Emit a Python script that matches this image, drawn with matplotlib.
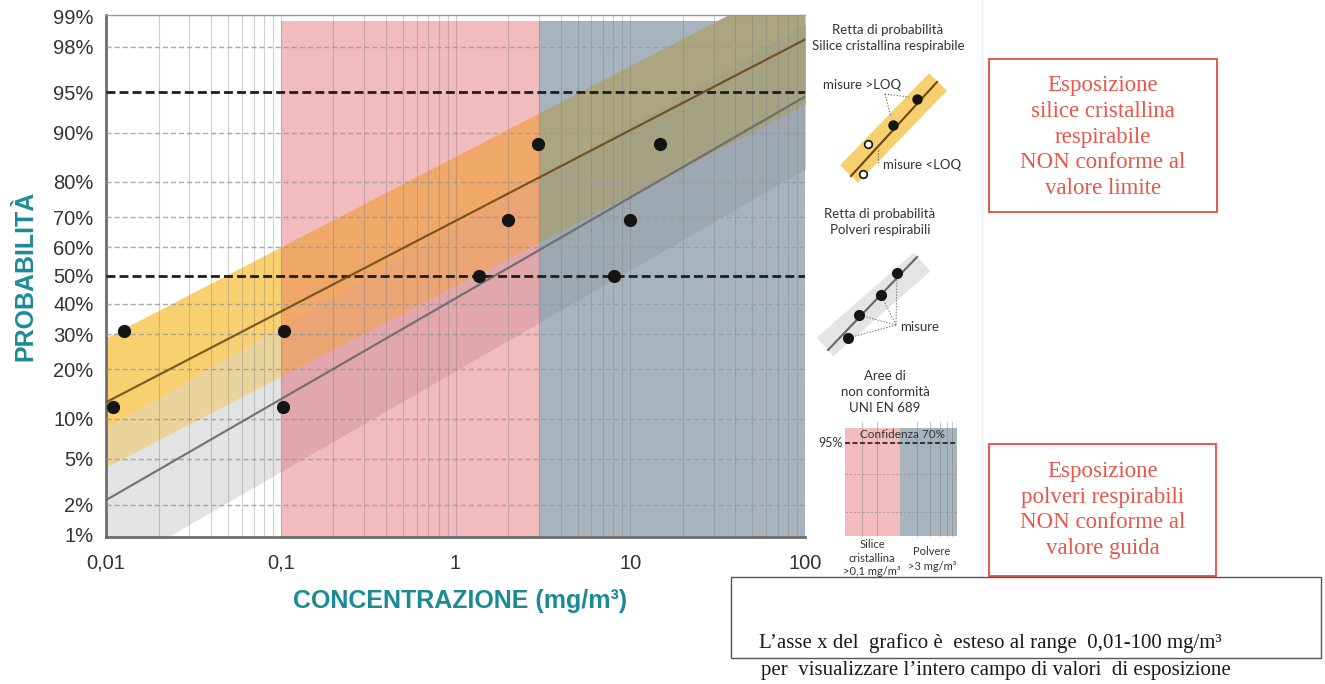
from statistics import NormalDist

import matplotlib
matplotlib.use("Agg")
import matplotlib.pyplot as plt
import numpy as np

plt.rcParams["font.family"] = ["Liberation Sans", "DejaVu Sans"]

# probability grid (percent)
PROB_TICKS = [1, 2, 5, 10, 20, 30, 40, 50, 60, 70, 80, 90, 95, 98, 99]
PROB_GRID = [2, 5, 10, 20, 30, 40, 60, 70, 80, 90, 98]
PROB_BOLD = [50, 95]
CONC_TICKS = [0.01, 0.1, 1, 10, 100]
CONC_LABELS = ["0,01", "0,1", "1", "10", "100"]

# measurements (mg/m3) and plotting positions (%)
SILICA_CONC = [0.0109, 0.0126, 1.37, 1.99, 2.98]
DUST_CONC = [0.103, 0.104, 8.1, 9.97, 14.8]
POSITIONS = [11.9, 30.9, 50.0, 69.0, 88.1]

# fitted probability lines, value at x = 0.01 and x = 100
LINE_X = [0.01, 100]
SILICA_LINE_P = [12.8, 98.3]
DUST_LINE_P = [2.2, 94.6]
SILICA_HALF_Z = 0.58
DUST_HALF_Z = 0.65

# non-conformity areas
REGION_EDGES = [0.01, 0.1, 3, 100]
REGION_TOP_P = 98.9
REGION_BG = [None, "#F2BBBD", "#A8B4BD"]
DUST_ONLY = ["#E3E3E3", "#E2A7AC", "#9EA8B0"]
SILICA_ONLY = ["#F8D070", "#F0A868", "#ABA67F"]
OVERLAP = ["#EAD49C", "#EBA474", "#A4A283"]

TEAL = "#1C8A96"
RED = "#E8574A"

_nd = NormalDist()


def probit(p):
    return np.array([_nd.inv_cdf(v / 100.0) for v in np.atleast_1d(p)])


def line_z(x, p_ends):
    zz = probit(p_ends)
    t = (np.log10(x) - np.log10(LINE_X[0])) / (np.log10(LINE_X[1]) - np.log10(LINE_X[0]))
    return zz[0] + t * (zz[1] - zz[0])


fig = plt.figure(figsize=(13.25, 6.84), dpi=100)
W, H = 1325, 684
ax = fig.add_axes([106 / W, 1 - 537 / H, 699 / W, 522 / H])
ax.set_xscale("log")
ax.set_xlim(0.01, 100)
ylo, yhi = -2.345, 2.34
ax.set_ylim(ylo, yhi)

ztop = probit(REGION_TOP_P)[0]
for i in range(3):
    lo, hi = REGION_EDGES[i], REGION_EDGES[i + 1]
    xs = np.geomspace(lo, hi, 40)
    if REGION_BG[i]:
        ax.fill_between([lo, hi], ylo, ztop, color=REGION_BG[i], lw=0, zorder=1)
    s = line_z(xs, SILICA_LINE_P)
    d = line_z(xs, DUST_LINE_P)
    ax.fill_between(xs, d - DUST_HALF_Z, d + DUST_HALF_Z, color=DUST_ONLY[i], lw=0, zorder=2)
    ax.fill_between(xs, s - SILICA_HALF_Z, s + SILICA_HALF_Z, color=SILICA_ONLY[i], lw=0, zorder=2)
    ax.fill_between(xs, np.maximum(s - SILICA_HALF_Z, d - DUST_HALF_Z),
                    np.minimum(s + SILICA_HALF_Z, d + DUST_HALF_Z),
                    color=OVERLAP[i], lw=0, zorder=2)

# vertical log grid
for dec in [0.01, 0.1, 1, 10]:
    for k in range(1, 10):
        xv = dec * k
        if xv <= 0.01:
            continue
        ax.axvline(xv, color="#7A7A7A", lw=0.8, alpha=0.35, zorder=3)

for p in PROB_GRID:
    ax.axhline(probit(p)[0], color="#9A9A9A", lw=1, ls=(0, (3.6, 2.2)), alpha=0.85, zorder=3)
for p in PROB_BOLD:
    ax.axhline(probit(p)[0], color="#1E1E1E", lw=2, ls=(0, (3.2, 1.5)), zorder=4)

xl = np.array(LINE_X)
ax.plot(xl, line_z(xl, SILICA_LINE_P), color="#6A4515", lw=1.6, alpha=0.85, zorder=4)
ax.plot(xl, line_z(xl, DUST_LINE_P), color="#6A6A6A", lw=1.6, alpha=0.9, zorder=4)

ax.plot(SILICA_CONC, probit(POSITIONS), "o", color="#151515", ms=8.5, zorder=6)
ax.plot(DUST_CONC, probit(POSITIONS), "o", color="#151515", ms=8.5, zorder=6)

ax.set_yticks(probit(PROB_TICKS))
ax.set_yticklabels([f"{p}%" for p in PROB_TICKS])
ax.set_xticks(CONC_TICKS)
ax.set_xticklabels(CONC_LABELS)
ax.xaxis.set_minor_locator(matplotlib.ticker.NullLocator())
ax.tick_params(axis="both", length=0, labelsize=14.5, colors="#333333")
ax.tick_params(axis="y", pad=9)
ax.tick_params(axis="x", pad=12)

for side in ["left", "bottom"]:
    ax.spines[side].set_color("#6E6E6E")
    ax.spines[side].set_linewidth(2)
ax.spines["top"].set_color("#9A9A9A")
ax.spines["top"].set_linewidth(1)
ax.spines["right"].set_visible(False)

fig.text(25 / W, 1 - 276 / H, "PROBABILITÀ", rotation=90, ha="center", va="center",
         fontsize=18, fontweight="bold", color=TEAL)
fig.text(460 / W, 1 - 601 / H, "CONCENTRAZIONE (mg/m³)", ha="center", va="center",
         fontsize=18, fontweight="bold", color=TEAL)

# ---- right-hand legend and notes, drawn in pixel coordinates ----
ov = fig.add_axes([0, 0, 1, 1], zorder=-1)
ov.set_xlim(0, W)
ov.set_ylim(H, 0)
ov.axis("off")
ov2 = fig.add_axes([0, 0, 1, 1], zorder=5)
ov2.set_xlim(0, W)
ov2.set_ylim(H, 0)
ov2.axis("off")
ov2.patch.set_alpha(0)

ov.plot([982, 982], [0, 578], color="#EEEEEE", lw=1)

LEG_FONT = ["Lato", "DejaVu Sans"]
PX = 72 / 100  # points per pixel

ov2.text(888, 38, "Retta di probabilità\nSilice cristallina respirabile", ha="center", va="center",
         fontsize=9.5, family=LEG_FONT, color="#333333", linespacing=1.35)
ov2.plot([849, 938], [174, 82], color="#F6CF6E", lw=25 * PX, solid_capstyle="butt")
ov2.plot([851, 937], [176, 82], color="#6A4515", lw=1.5)
ov2.plot([885, 891], [94, 117], color="#555555", lw=0.8, ls=":")
ov2.plot([885, 909], [94, 97], color="#555555", lw=0.8, ls=":")
ov2.plot([878, 878], [150, 165], color="#555555", lw=0.8, ls=":")
ov2.plot([893, 917], [125, 99], "o", color="#151515", ms=6.5)
ov2.plot([868, 863], [144, 174], "o", mfc="white", mec="#151515", mew=1.2, ms=5.5)
ov2.text(823, 85, "misure >LOQ", ha="left", va="center", fontsize=9.5, family=LEG_FONT, color="#333333")
ov2.text(883, 165, "misure <LOQ", ha="left", va="center", fontsize=9.5, family=LEG_FONT, color="#333333")

ov2.text(880, 222, "Retta di probabilità\nPolveri respirabili", ha="center", va="center",
         fontsize=9.5, family=LEG_FONT, color="#333333", linespacing=1.35)
ov2.plot([825, 922], [347, 262], color="#E4E4E4", lw=25 * PX, solid_capstyle="butt")
ov2.plot([828, 917], [350, 257], color="#666666", lw=1.5)
for px_, py_ in [(848, 338), (859, 315), (881, 295), (897, 273)]:
    ov2.plot([896, px_], [325, py_], color="#777777", lw=0.7, ls=(0, (1.5, 1.5)))
ov2.plot([848, 859, 881, 897], [338, 315, 295, 273], "o", color="#151515", ms=7)
ov2.text(900, 327, "misure", ha="left", va="center", fontsize=9.5, family=LEG_FONT, color="#333333")

ov2.text(885, 392, "Aree di\nnon conformità\nUNI EN 689", ha="center", va="center",
         fontsize=9.5, family=LEG_FONT, color="#333333", linespacing=1.35)
ov2.fill_between([845, 900], 428, 536, color="#F2BBBD", lw=0)
ov2.fill_between([900, 957], 428, 536, color="#A8B4BD", lw=0)
for xv in [862, 877, 917, 930, 940, 947, 952]:
    ov2.plot([xv, xv], [422, 536], color="#7A7A7A", lw=0.6, alpha=0.5)
for yv in [474, 512]:
    ov2.plot([845, 957], [yv, yv], color="#8A8A8A", lw=0.6, ls=(0, (3, 2)), alpha=0.7)
ov2.plot([845, 957], [443, 443], color="#1E1E1E", lw=1.2, ls=(0, (3, 1.5)))
ov2.text(843, 443, "95%", ha="right", va="center", fontsize=9, family=LEG_FONT, color="#333333")
ov2.text(902, 434, "Confidenza 70%", ha="center", va="center", fontsize=8.5, family=LEG_FONT, color="#333333")
ov2.text(872, 558, "Silice\ncristallina\n>0,1 mg/m³", ha="center", va="center", fontsize=8,
         family=LEG_FONT, color="#333333", linespacing=1.25)
ov2.text(932, 559, "Polvere\n>3 mg/m³", ha="center", va="center", fontsize=8,
         family=LEG_FONT, color="#333333", linespacing=1.4)

SERIF = ["Liberation Serif", "DejaVu Serif"]
ov2.add_patch(plt.Rectangle((989, 59), 228, 153, fill=False, ec=RED, lw=1.4))
ov2.text(1103, 137, "Esposizione\nsilice cristallina\nrespirabile\nNON conforme al\nvalore limite",
         ha="center", va="center", fontsize=16.5, family=SERIF, color=RED, linespacing=1.3)
ov2.add_patch(plt.Rectangle((989, 444), 227, 132, fill=False, ec=RED, lw=1.4))
ov2.text(1103, 510, "Esposizione\npolveri respirabili\nNON conforme al\nvalore guida",
         ha="center", va="center", fontsize=16.5, family=SERIF, color=RED, linespacing=1.3)

ov2.add_patch(plt.Rectangle((731, 577), 590, 81, fill=False, ec="#555555", lw=1))
ov2.text(990, 643, "L’asse x del  grafico è  esteso al range  0,01-100 mg/m³", ha="center", va="center",
         fontsize=15, family=SERIF, color="#1A1A1A")
ov2.text(996, 671, "per  visualizzare l’intero campo di valori  di esposizione", ha="center", va="center",
         fontsize=15, family=SERIF, color="#1A1A1A")

fig.savefig("out.png", dpi=100)
